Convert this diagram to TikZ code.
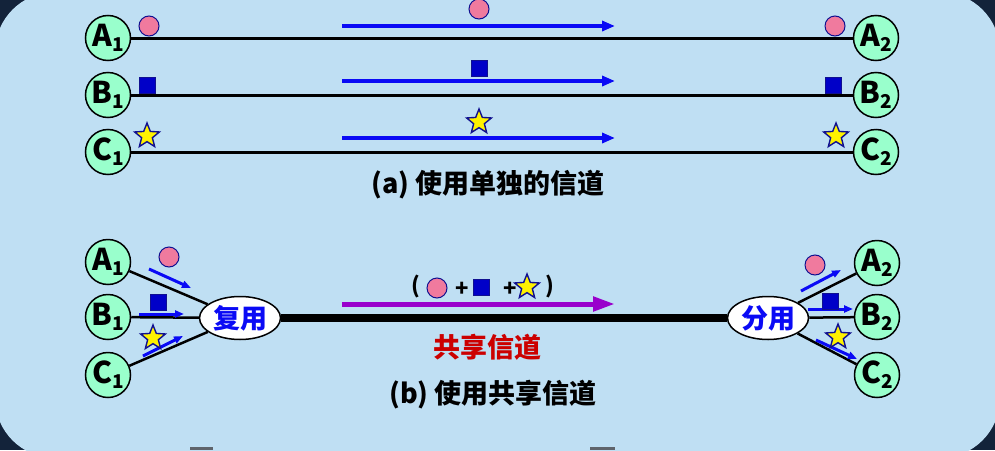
\documentclass[tikz,border=0pt]{standalone}
\usepackage{fontspec}
\setmainfont{Noto Sans CJK SC}
\usepackage{xcolor}
\usetikzlibrary{arrows.meta,shapes.geometric}

\definecolor{bgblue}{HTML}{BFDFF3}
\definecolor{bgdark}{HTML}{13233A}
\definecolor{mint}{HTML}{99FFCC}
\definecolor{pinkdot}{HTML}{F07A9E}
\definecolor{symblue}{HTML}{0000C8}
\definecolor{edgeblue}{HTML}{101090}
\definecolor{flowblue}{HTML}{0A0AF5}
\definecolor{mixpurple}{HTML}{9900CC}
\definecolor{chanred}{HTML}{CC0000}

\newcommand{\hostlab}[2]{#1\raisebox{-5pt}{\fontsize{19}{19}\selectfont #2}}

\tikzset{
  host/.style={circle, draw=black, line width=1.5pt, fill=mint, minimum size=45pt, inner sep=0pt, font=\fontsize{30}{30}\selectfont\bfseries},
  muxbox/.style={ellipse, draw=black, line width=1.5pt, fill=white, minimum width=81pt, minimum height=43pt, inner sep=0pt, text=flowblue, font=\fontsize{27}{27}\selectfont\bfseries},
  dotsym/.style={circle, draw=edgeblue, line width=1pt, fill=pinkdot, minimum size=20pt, inner sep=0pt},
  sqsym/.style={rectangle, draw=edgeblue, line width=0.8pt, fill=symblue, minimum size=16pt, inner sep=0pt},
  starsym/.style={star, star points=5, star point ratio=2.3, minimum size=26pt, inner sep=0pt, draw=edgeblue, line width=1.4pt, fill=yellow},
  wire/.style={line width=3pt},
  sidewire/.style={line width=2.5pt},
  flow/.style={flowblue, line width=4pt, -{Triangle[length=13pt,width=10pt]}},
  subflow/.style={flowblue, line width=3pt, -{Triangle[length=9pt,width=7pt]}},
  caption/.style={font=\fontsize{27}{27}\selectfont\bfseries}
}

\begin{document}
\begin{tikzpicture}[x=1pt,y=-1pt]
\useasboundingbox (0,0) rectangle (995,450);
\clip (0,0) rectangle (995,450);
\fill[bgdark] (0,0) rectangle (995,450);
\fill[bgblue, rounded corners=60pt] (-5,-8) rectangle (1000,458);
\fill[gray!70!bgdark] (190,447) rectangle (213,450);
\fill[gray!70!bgdark] (590,447) rectangle (615,450);

% (a) separate channels
\node[host] (A1) at (108,38) {\hostlab{A}{1}};
\node[host] (B1) at (108,95) {\hostlab{B}{1}};
\node[host] (C1) at (108,152) {\hostlab{C}{1}};
\node[host] (A2) at (876,38) {\hostlab{A}{2}};
\node[host] (B2) at (876,95) {\hostlab{B}{2}};
\node[host] (C2) at (876,152) {\hostlab{C}{2}};
\draw[wire] (A1) -- (A2);
\draw[wire] (B1) -- (B2);
\draw[wire] (C1) -- (C2);

\coordinate (fa1) at (342,26);  \coordinate (fa2) at (615,26);
\coordinate (fb1) at (342,81);  \coordinate (fb2) at (615,81);
\coordinate (fc1) at (342,138); \coordinate (fc2) at (615,138);
\draw[flow] (fa1) -- (fa2);
\draw[flow] (fb1) -- (fb2);
\draw[flow] (fc1) -- (fc2);

\node[dotsym] (dotA1) at (149,26) {};
\node[dotsym] (dotAm) at (479,9) {};
\node[dotsym] (dotA2) at (835,26) {};
\node[sqsym] (sqB1) at (147.5,85) {};
\node[sqsym] (sqBm) at (479,68.5) {};
\node[sqsym] (sqB2) at (833.5,85) {};
\node[starsym] (stC1) at (147,136) {};
\node[starsym] (stCm) at (479,122) {};
\node[starsym] (stC2) at (836,136) {};

\node[caption] (capa) at (488,185) {(a) 使用单独的信道};

% (b) shared channel
\node[host] (A1b) at (108,262) {\hostlab{A}{1}};
\node[host] (B1b) at (108,317) {\hostlab{B}{1}};
\node[host] (C1b) at (108,375) {\hostlab{C}{1}};
\node[host] (A2b) at (877,263) {\hostlab{A}{2}};
\node[host] (B2b) at (877,317) {\hostlab{B}{2}};
\node[host] (C2b) at (877,375) {\hostlab{C}{2}};
\node[muxbox] (mux) at (240,318) {复用};
\node[muxbox] (demux) at (768,318) {分用};

\draw[sidewire] (A1b) -- (mux);
\draw[sidewire] (B1b) -- (mux);
\draw[sidewire] (C1b) -- (mux);
\draw[sidewire] (demux) -- (A2b);
\draw[sidewire] (demux) -- (B2b);
\draw[sidewire] (demux) -- (C2b);
\draw[line width=8pt] (mux) -- (demux);

\coordinate (la1) at (149,269); \coordinate (la2) at (191,288);
\coordinate (lb1) at (139,314); \coordinate (lb2) at (184,314);
\coordinate (lc1) at (143,356); \coordinate (lc2) at (183,336);
\coordinate (ra1) at (801,291); \coordinate (ra2) at (841,270);
\coordinate (rb1) at (808,309); \coordinate (rb2) at (853,309);
\coordinate (rc1) at (816,340); \coordinate (rc2) at (857,359);
\draw[subflow] (la1) -- (la2);
\draw[subflow] (lb1) -- (lb2);
\draw[subflow] (lc1) -- (lc2);
\draw[subflow] (ra1) -- (ra2);
\draw[subflow] (rb1) -- (rb2);
\draw[subflow] (rc1) -- (rc2);

\node[dotsym] (dotL) at (169,257) {};
\node[sqsym] (sqL) at (158,302) {};
\node[starsym] (stL) at (153,338) {};
\node[dotsym] (dotR) at (815,265) {};
\node[sqsym] (sqR) at (830,301) {};
\node[starsym] (stR) at (838,337) {};

\coordinate (mix1) at (342,304); \coordinate (mix2) at (615,304);
\draw[mixpurple, line width=5pt, -{Triangle[length=22pt,width=14pt]}] (mix1) -- (mix2);

\node[font=\fontsize{22}{22}\selectfont\bfseries] (lpar) at (416,286) {(};
\node[dotsym] (dotM) at (437,288) {};
\node[font=\fontsize{22}{22}\selectfont\bfseries] (plus1) at (462,289) {+};
\node[sqsym] (sqM) at (481,287) {};
\node[font=\fontsize{22}{22}\selectfont\bfseries] (plus2) at (510,289) {+};
\node[starsym] (stM) at (527,287) {};
\node[font=\fontsize{22}{22}\selectfont\bfseries] (rpar) at (550,286) {)};

\node[caption, text=chanred] (chan) at (487,347) {共享信道};
\node[caption] (capb) at (493,395) {(b) 使用共享信道};
\end{tikzpicture}
\end{document}
